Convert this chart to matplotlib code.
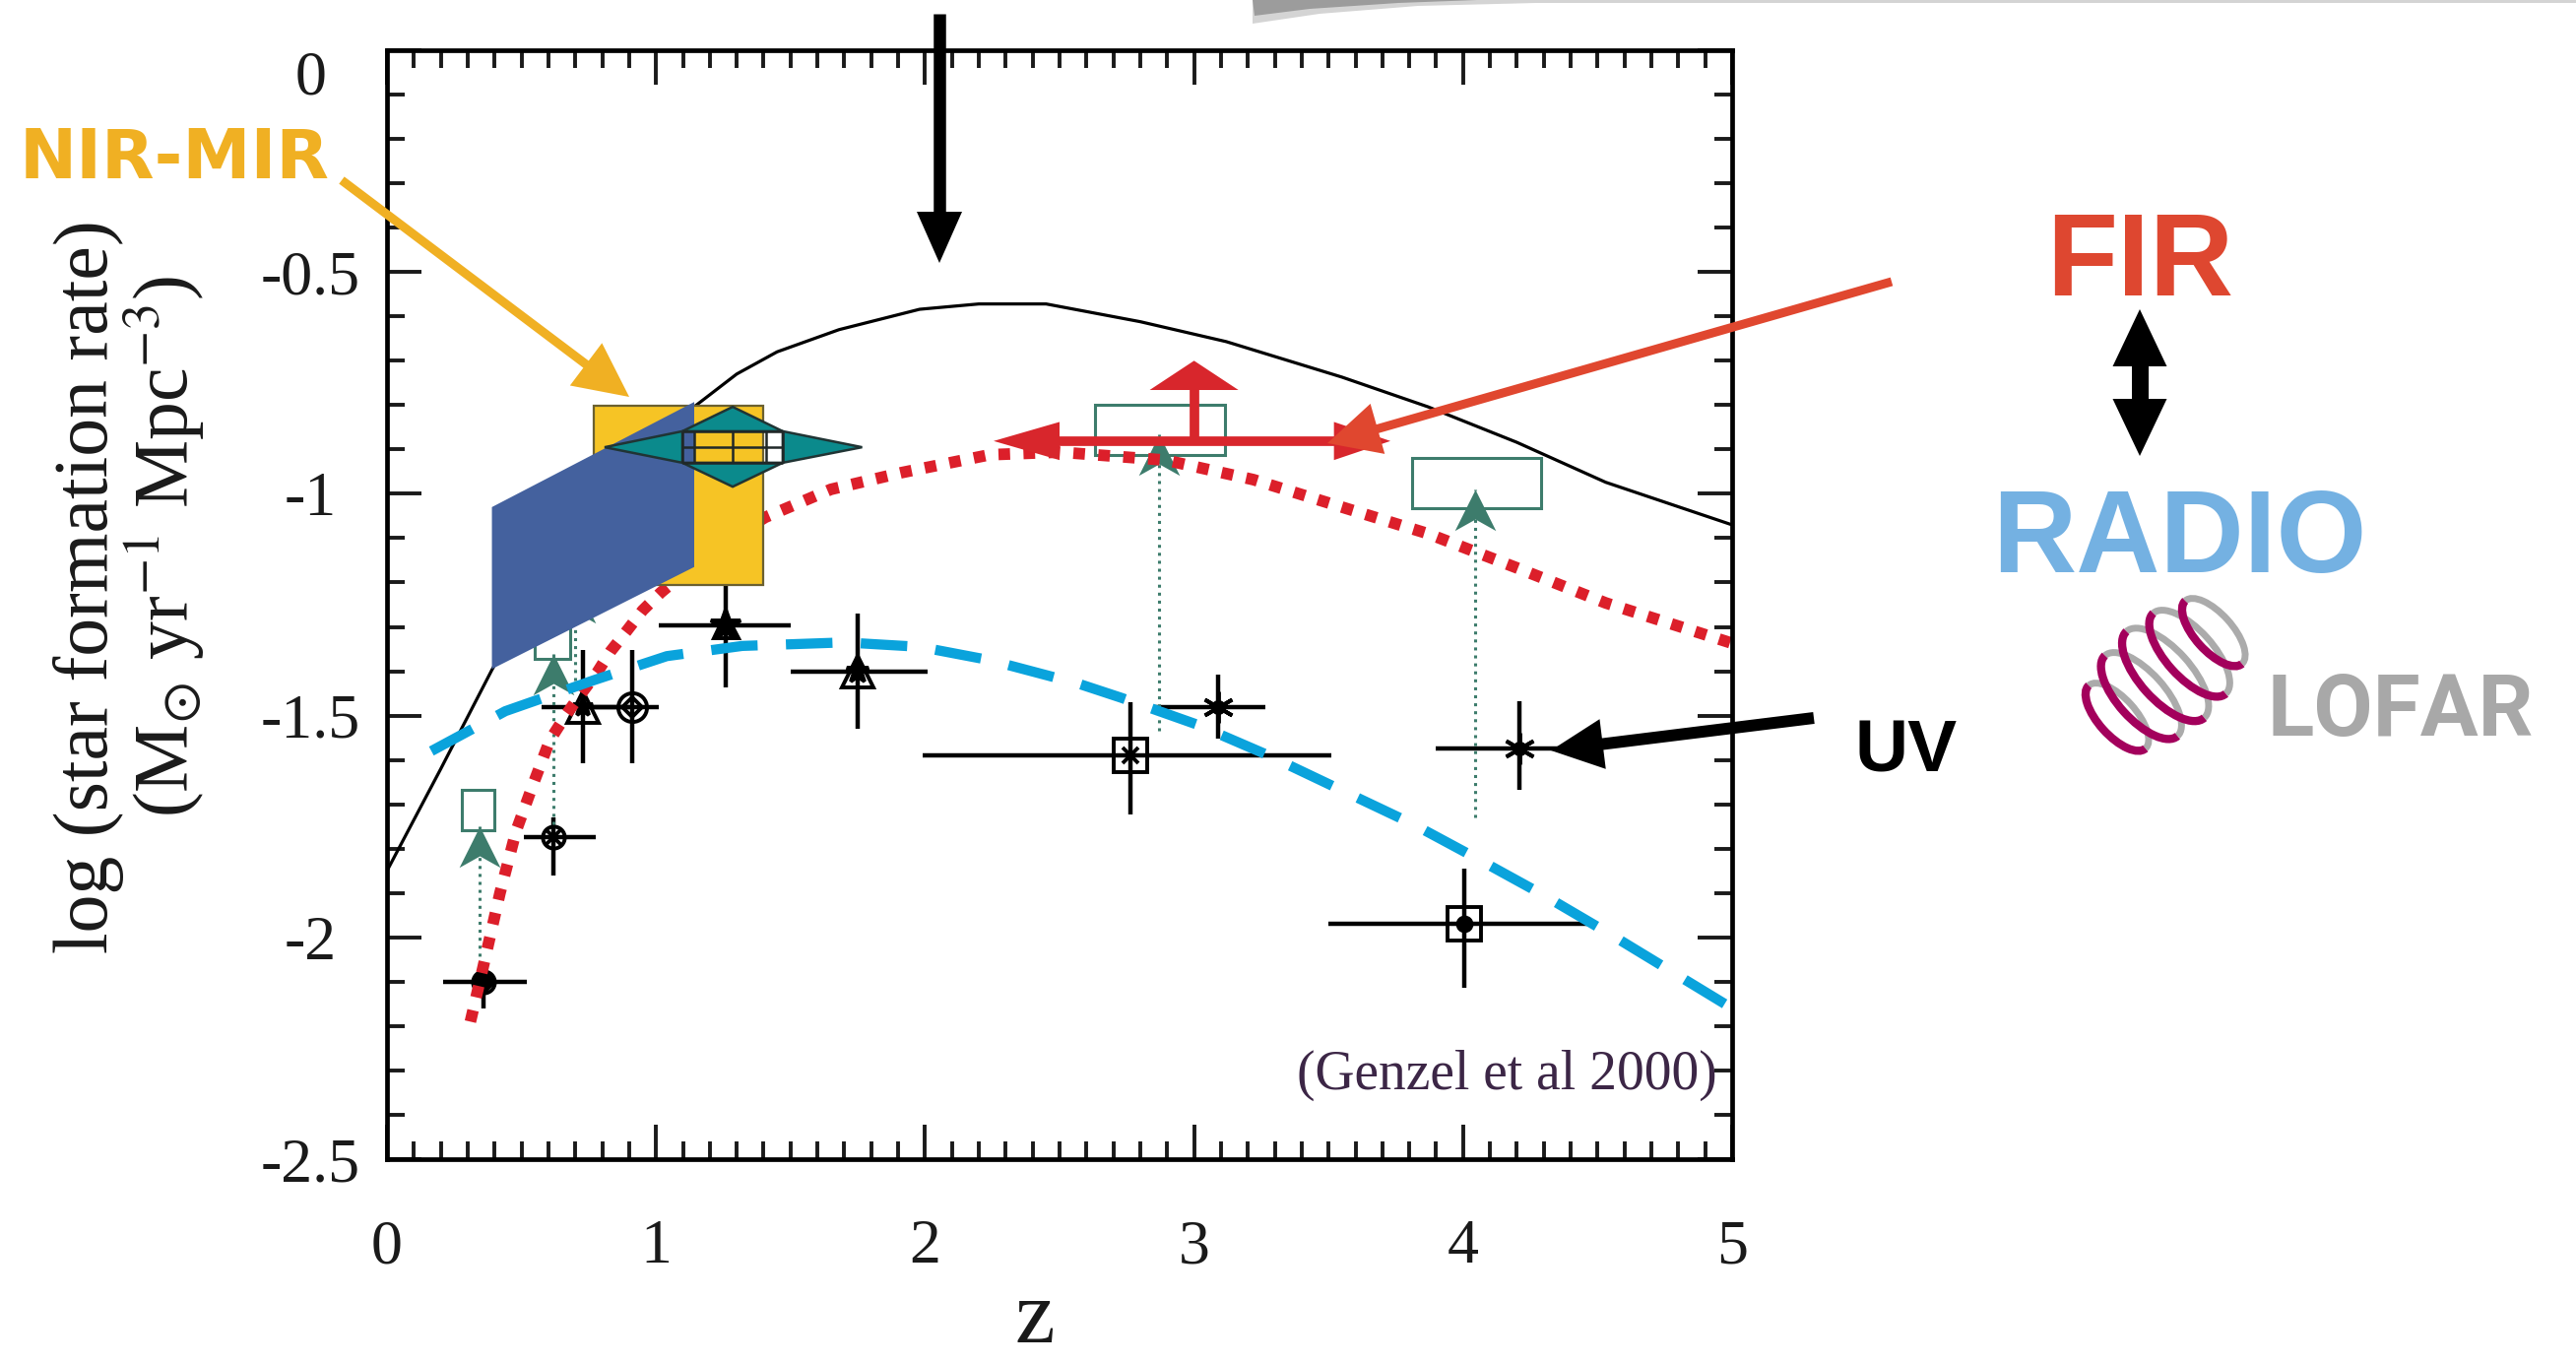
import numpy as np
import matplotlib
matplotlib.use("Agg")
import matplotlib.pyplot as plt
from matplotlib.patches import Polygon, Rectangle, Arc
from matplotlib.path import Path
from matplotlib.ticker import MultipleLocator

W, H = 2616, 1385
plt.rcParams["font.family"] = ["Liberation Serif", "DejaVu Serif"]
plt.rcParams["mathtext.fontset"] = "stix"
plt.rcParams["axes.unicode_minus"] = False

# ---------------- data ----------------
# total (reference) model of the star-formation history
model_z = [0.0, 0.2, 0.39, 0.6, 0.8, 1.0, 1.15, 1.3, 1.45, 1.68, 1.98, 2.2,
           2.45, 2.8, 3.12, 3.55, 3.87, 4.2, 4.53, 5.0]
model_y = [-1.85, -1.62, -1.397, -1.17, -0.99, -0.87, -0.80, -0.73, -0.68,
           -0.63, -0.584, -0.572, -0.572, -0.612, -0.657, -0.737, -0.804,
           -0.884, -0.974, -1.07]

# far-IR (dust obscured) model, dotted red
fir_curve_z = [0.31, 0.36, 0.42, 0.48, 0.54, 0.605, 0.667, 0.72, 0.78, 0.83,
               0.89, 0.95, 1.017, 1.2, 1.406, 1.65, 1.915, 2.24, 2.5, 2.894,
               3.22, 3.55, 3.87, 4.2, 4.53, 5.0]
fir_curve_y = [-2.19, -2.06, -1.90, -1.76, -1.66, -1.556, -1.497, -1.452,
               -1.404, -1.356, -1.31, -1.263, -1.223, -1.13, -1.053, -0.99,
               -0.952, -0.912, -0.906, -0.924, -0.968, -1.03, -1.09, -1.167,
               -1.246, -1.337]

# UV (unobscured) model, dashed blue
uv_curve_z = [0.165, 0.44, 0.77, 1.04, 1.32, 1.7, 1.98, 2.24, 2.57, 2.73,
              3.01, 3.27, 3.53, 3.815, 4.045, 4.3, 4.55, 5.0]
uv_curve_y = [-1.58, -1.49, -1.42, -1.366, -1.343, -1.335, -1.345, -1.375,
              -1.428, -1.46, -1.52, -1.588, -1.663, -1.745, -1.82, -1.905,
              -1.994, -2.16]

# UV survey measurements with redshift bins and errors
uv_z   = np.array([0.36, 0.62, 0.727, 0.91, 1.258, 1.75, 2.764, 3.088, 4.21, 4.003])
uv_y   = np.array([-2.10, -1.775, -1.48, -1.48, -1.297, -1.40, -1.589, -1.481, -1.574, -1.969])
uv_zlo = np.array([0.21, 0.51, 0.575, 0.77, 1.01, 1.50, 1.99, 2.85, 3.90, 3.50])
uv_zhi = np.array([0.52, 0.775, 0.90, 1.01, 1.50, 2.01, 3.51, 3.265, 4.36, 4.47])
uv_ylo = np.array([-2.16, -1.86, -1.607, -1.607, -1.437, -1.53, -1.722, -1.552, -1.667, -2.114])
uv_yhi = np.array([-2.06, -1.73, -1.352, -1.352, -1.20, -1.27, -1.47, -1.408, -1.467, -1.844])

# dust-corrected lower limits (open boxes) linked to the UV points
lim_z    = [0.345, 0.62, 0.70, 2.87, 4.045]
lim_tip  = [-1.75, -1.36, -1.20, -0.866, -0.991]
lim_from = [-2.06, -1.745, -1.42, -1.534, -1.73]
box_zlo  = [0.28, 0.55, 0.64, 2.63, 3.81]
box_zhi  = [0.40, 0.68, 0.76, 3.115, 4.29]
box_ylo  = [-1.758, -1.372, -1.21, -0.912, -1.033]
box_yhi  = [-1.667, -1.28, -1.12, -0.799, -0.919]

# mid-IR (ISO) constraint: yellow box
iso_zlo, iso_zhi, iso_ylo, iso_yhi = 0.769, 1.40, -1.206, -0.802
# radio/sub-mm band (blue parallelogram): left and right edges
band_z    = [0.39, 1.142]
band_ytop = [-1.03, -0.793]
band_ybot = [-1.395, -1.165]
# teal star-shaped measurement
teal_z, teal_y = 1.285, -0.895
teal_zlo, teal_zhi = 0.809, 1.766
teal_ylo, teal_yhi = -0.984, -0.804
teal_cols = [1.098, 1.142, 1.285, 1.409, 1.471]
teal_rows = [-0.930, -0.895, -0.859]
# SCUBA far-IR point: z range and upper arrow
fir_z, fir_y = 3.0, -0.881
fir_zlo, fir_zhi = 2.255, 3.73
fir_ytip = -0.70

yticks = [0, -0.5, -1, -1.5, -2, -2.5]
ytick_labels = ["", "-0.5", "-1", "-1.5", "-2", "-2.5"]
xticks = [0, 1, 2, 3, 4, 5]
xtick_labels = ["0", "1", "2", "3", "4", "5"]

# ---------------- figure ----------------
fig = plt.figure(figsize=(W / 100, H / 100), dpi=100)
fig.patch.set_facecolor("white")
ax = fig.add_axes([393 / W, 1 - 1177 / H, (1759 - 393) / W, (1177 - 51) / H])
ax.set_xlim(0, 5)
ax.set_ylim(-2.5, 0)

GREEN = "#3d7c6c"
RED = "#d8262c"

# error bars and symbols of the UV points
ax.errorbar(uv_z, uv_y, xerr=[uv_z - uv_zlo, uv_zhi - uv_z],
            yerr=[uv_y - uv_ylo, uv_yhi - uv_y], fmt="none", ecolor="black",
            elinewidth=3.2, capsize=0, zorder=1.5)
asterisk = (6, 2, 0)
symbols = [
    [("o", 16, "none"), ("D", 11, "black")],
    [("o", 16, "none"), ("x", 12, "black")],
    [("^", 23, "none"), ("*", 15, "black")],
    [("o", 21, "none"), ("D", 10, "none")],
    [("*", 23, "black"), ("^", 18, "none")],
    [("^", 23, "none"), ("*", 17, "black")],
    [("s", 24, "none"), ("x", 11, "black")],
    [(asterisk, 23, "black"), ("o", 8, "black")],
    [(asterisk, 23, "black"), ("o", 8, "black")],
    [("s", 24, "none"), ("o", 10, "black")],
]
for zi, yi, spec in zip(uv_z, uv_y, symbols):
    for m, ms, fc in spec:
        ax.plot(zi, yi, ls="none", marker=m, ms=ms, mfc=fc, mec="black",
                mew=2.8, zorder=1.55)

# dust-corrected lower limits
arrow_path = Path([(0, 0), (0.5, -1), (0, -0.72), (-0.5, -1), (0, 0)],
                  [Path.MOVETO, Path.LINETO, Path.LINETO, Path.LINETO, Path.CLOSEPOLY])
for z0, tip, low, a, b, c, d in zip(lim_z, lim_tip, lim_from, box_zlo, box_zhi,
                                    box_ylo, box_yhi):
    ax.plot([z0, z0], [low, tip], ls=":", lw=2.2, color=GREEN, zorder=1.6)
    ax.add_patch(Rectangle((a, c), b - a, d - c, fill=False, ec=GREEN, lw=2.2,
                           zorder=1.6))
    ax.plot(z0, tip, ls="none", marker=arrow_path, ms=60, mfc=GREEN, mew=0,
            zorder=1.65)

# model curves
ax.plot(model_z, model_y, color="black", lw=2.3, zorder=1.7)
ax.plot(fir_curve_z, fir_curve_y, color="#dc1f2a", lw=8.5,
        ls=(0, (1.0, 1.15)), dash_capstyle="butt", zorder=1.8)
ax.plot(uv_curve_z, uv_curve_y, color="#0aa3dc", lw=7.4,
        ls=(0, (4.6, 2.8)), dash_capstyle="butt", zorder=1.9)

# mid-IR box, radio band, teal measurement
ax.add_patch(Rectangle((iso_zlo, iso_ylo), iso_zhi - iso_zlo, iso_yhi - iso_ylo,
                       fc="#f6c425", ec="#6b6030", lw=1.6, zorder=3))
ax.add_patch(Polygon([(band_z[0], band_ytop[0]), (band_z[1], band_ytop[1]),
                      (band_z[1], band_ybot[1]), (band_z[0], band_ybot[0])],
                     closed=True, fc="#44619e", ec="none", zorder=3.2))
c0, c4 = teal_cols[0], teal_cols[-1]
r0, r2 = teal_rows[0], teal_rows[-1]
TEAL = "#0b8a8c"
for tri in ([(teal_zlo, teal_y), (c0, r2), (c0, r0)],
            [(c0, r2), (teal_z, teal_yhi), (c4, r2)],
            [(c4, r2), (teal_zhi, teal_y), (c4, r0)],
            [(c0, r0), (teal_z, teal_ylo), (c4, r0)]):
    ax.add_patch(Polygon(tri, closed=True, fc=TEAL, ec="#203434", lw=1.8,
                         zorder=3.4))
ax.vlines(teal_cols, r0, r2, color="#202828", lw=1.8, zorder=3.5)
ax.hlines(teal_rows, c0, c4, color="#202828", lw=1.8, zorder=3.5)

# far-IR point: z-range double arrow and upward limit
hl_l, hl_r, hh = 0.245, 0.21, 0.043
ax.plot([fir_zlo + hl_l - 0.01, fir_zhi - hl_r + 0.01], [fir_y, fir_y],
        color=RED, lw=7, solid_capstyle="butt", zorder=4)
ax.add_patch(Polygon([(fir_zlo, fir_y), (fir_zlo + hl_l, fir_y + hh),
                      (fir_zlo + hl_l, fir_y - hh)], fc=RED, ec="none", zorder=4))
ax.add_patch(Polygon([(fir_zhi, fir_y), (fir_zhi - hl_r, fir_y + hh),
                      (fir_zhi - hl_r, fir_y - hh)], fc=RED, ec="none", zorder=4))
ax.plot([fir_z, fir_z], [fir_y, fir_ytip - 0.06], color=RED, lw=7,
        solid_capstyle="butt", zorder=4)
ax.add_patch(Polygon([(fir_z, fir_ytip), (fir_z - 0.165, fir_ytip - 0.066),
                      (fir_z + 0.165, fir_ytip - 0.066)], fc=RED, ec="none",
                     zorder=4))

# axes styling
for s in ax.spines.values():
    s.set_linewidth(3.4)
ax.xaxis.set_minor_locator(MultipleLocator(0.1))
ax.yaxis.set_minor_locator(MultipleLocator(0.1))
ax.tick_params(which="both", direction="in", top=True, right=True, width=2.8,
               colors="#1a1a1a")
ax.tick_params(which="major", length=25)
ax.tick_params(which="minor", length=13)
ax.set_xticks(xticks)
ax.set_xticklabels(xtick_labels, fontsize=46)
ax.set_yticks(yticks)
ax.set_yticklabels(ytick_labels, fontsize=46)
ax.tick_params(axis="x", pad=44)
ax.tick_params(axis="y", pad=56)
for lab in ax.get_yticklabels():
    lab.set_horizontalalignment("center")
ax.annotate("0", xy=(0, 0), xycoords=("axes fraction", "data"),
            xytext=(-56, -21), textcoords="offset points", ha="center",
            va="center", fontsize=46, color="#1a1a1a")

# ---------------- annotation layer (pixel coordinates) ----------------
ov = fig.add_axes([0, 0, 1, 1], zorder=5)
ov.set_xlim(0, W)
ov.set_ylim(H, 0)
ov.axis("off")


def px_arrow(tail, tip, shaft, hlen, hwid, color, both=False):
    t = np.array(tail, float)
    p = np.array(tip, float)
    d = (p - t) / np.linalg.norm(p - t)
    n = np.array([-d[1], d[0]])
    base = p - d * hlen
    start = t + d * hlen if both else t
    ov.plot([start[0] - (d[0] * 2 if both else 0), base[0] + d[0] * 2],
            [start[1] - (d[1] * 2 if both else 0), base[1] + d[1] * 2],
            lw=shaft * 0.72, color=color, solid_capstyle="butt")
    ov.add_patch(Polygon([p, base + n * hwid / 2, base - n * hwid / 2],
                         closed=True, fc=color, ec="none"))
    if both:
        b2 = t + d * hlen
        ov.add_patch(Polygon([t, b2 + n * hwid / 2, b2 - n * hwid / 2],
                             closed=True, fc=color, ec="none"))


# faint grey swoosh at the top edge
ov.add_patch(Polygon([(1272, 0), (1272, 24), (1340, 14), (1440, 6), (1560, 3),
                      (2616, 3), (2616, 0)], closed=True, fc="#d4d4d4", ec="none"))
ov.add_patch(Polygon([(1272, 0), (1274, 16), (1330, 9), (1420, 3), (1500, 0)],
                     closed=True, fc="#9c9c9c", ec="none"))

px_arrow((347, 183), (639, 403), 9, 55, 54, "#f0b023")
px_arrow((954, 14), (954, 267), 12.5, 52, 46, "black")
px_arrow((1921, 286), (1348, 450), 9, 53, 53, "#e0472f")
px_arrow((1842, 729), (1575, 762), 12, 53, 51, "black")
px_arrow((2173, 314), (2173, 463), 17, 58, 55, "black", both=True)

ov.text(20, 181, "NIR-MIR", fontfamily="DejaVu Sans", fontweight="bold",
        fontsize=50, color="#f0b023", ha="left", va="baseline")
ov.text(2173, 300, "FIR", fontfamily="Liberation Sans", fontweight="bold",
        fontsize=85, color="#de4730", ha="center", va="baseline")
ov.text(2213, 581, "RADIO", fontfamily="Liberation Sans", fontweight="bold",
        fontsize=85, color="#74b1e2", ha="center", va="baseline")
ov.text(1884, 783, "UV", fontfamily="Liberation Sans", fontweight="bold",
        fontsize=54, color="black", ha="left", va="baseline")
ov.text(2302, 747, "LOFAR", fontfamily="Roboto", fontweight="bold",
        fontsize=63, color="#a8a8a8", ha="left", va="baseline")
ov.text(1744, 1106, "(Genzel et al 2000)", fontfamily="Liberation Serif",
        fontsize=40, color="#3c2646", ha="right", va="baseline")

# axis titles
ov.text(90, 596, "log (star formation rate)", rotation=90, fontsize=56,
        ha="center", va="center", color="#1a1a1a")
ov.text(167, 555, r"(M$_{\odot}$ yr$^{-1}$ Mpc$^{-3}$)", rotation=90,
        fontsize=56, ha="center", va="center", color="#1a1a1a")
ov.text(1051, 1363, "z", fontsize=66, ha="center", va="baseline",
        color="#1a1a1a")

# LOFAR logo: tilted rings
ring_major = [86, 110, 118, 110, 86]
ring_minor = [38, 48, 52, 48, 38]
ring_cx = [2150 + t * (2248 - 2150) for t in np.linspace(0, 1, 5)]
ring_cy = [728 + t * (642 - 728) for t in np.linspace(0, 1, 5)]
for cx, cy, mj, mn in zip(ring_cx, ring_cy, ring_major, ring_minor):
    ov.add_patch(Arc((cx, cy), mj, mn, angle=48, theta1=180, theta2=360,
                     color="#ababab", lw=5))
for cx, cy, mj, mn in zip(ring_cx, ring_cy, ring_major, ring_minor):
    ov.add_patch(Arc((cx, cy), mj, mn, angle=48, theta1=0, theta2=180,
                     color="#a3005c", lw=6))

fig.savefig("out.png", dpi=100, facecolor="white")
